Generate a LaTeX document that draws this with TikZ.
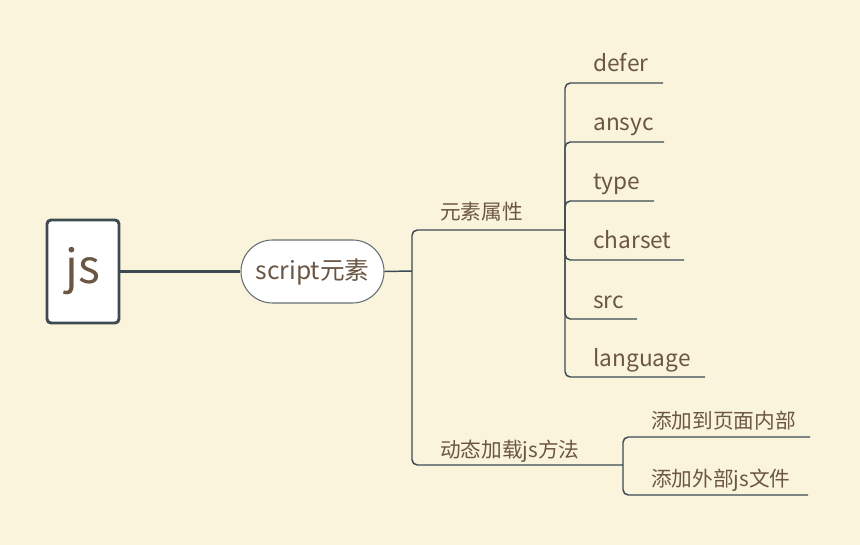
\documentclass[tikz,border=0pt]{standalone}
\usepackage{fontspec}
\setmainfont{Noto Sans CJK SC}
\definecolor{bg}{HTML}{FBF4DC}
\definecolor{ln}{HTML}{3E4A52}
\definecolor{tx}{HTML}{6B5644}
\begin{document}
\begin{tikzpicture}[x=0.75pt,y=-0.75pt,
  lbl/.style={anchor=base west,inner sep=0pt,text=tx,font=\fontsize{15.5}{18}\selectfont},
  lat/.style={lbl,font=\fontsize{17}{20}\selectfont},
  br/.style={draw=ln,line width=1.1pt,rounded corners=4pt},
  trunk/.style={draw=ln,line width=2.2pt}]
\fill[bg] (0,0) rectangle (860,545);
\useasboundingbox (0,0) rectangle (860,545);
% root
\node[draw=ln,line width=2.2pt,fill=white,rounded corners=3pt,minimum width=72*0.75pt,
  minimum height=103*0.75pt,inner sep=0pt,text=tx,font=\fontsize{35}{38}\selectfont] (js) at (83,271.5) {js};
% script node
\node[draw=ln!80,line width=0.8pt,fill=white,rounded corners=31.5*0.75pt,minimum width=143*0.75pt,
  minimum height=63*0.75pt,inner sep=0pt,text=tx,font=\fontsize{18.5}{20}\selectfont] (s) at (312.5,271.5) {script元素};
\draw[trunk] (js.east) -- (s.west);
% branch points
\coordinate (j1) at (412,271);
\coordinate (a0) at (565,230);
\coordinate (m0) at (623,465);
\draw[br] (s.east) -- (j1);
\draw[br] (j1) |- (a0);
\draw[br] (j1) |- (m0);
\node[lbl] (attr) at (440,220) {元素属性};
\node[lbl] (dyn) at (440,457) {动态加载js方法};
% attributes
\foreach \n/\t/\y/\e in {d1/defer/83/663, d2/ansyc/142/664, d3/type/201/654, d4/charset/260/684, d5/src/319/637, d6/language/377/705}{
  \coordinate (\n) at (\e,\y);
  \draw[br] (a0) |- (\n);
  \node[lat] (\n t) at (593,\y-11) {\t};
}
% dynamic children
\coordinate (p1) at (810,437);
\coordinate (p2) at (808,495);
\draw[br] (m0) |- (p1);
\draw[br] (m0) |- (p2);
\node[lbl] (p1t) at (651,428) {添加到页面内部};
\node[lbl] (p2t) at (651,486) {添加外部js文件};
\end{tikzpicture}
\end{document}
